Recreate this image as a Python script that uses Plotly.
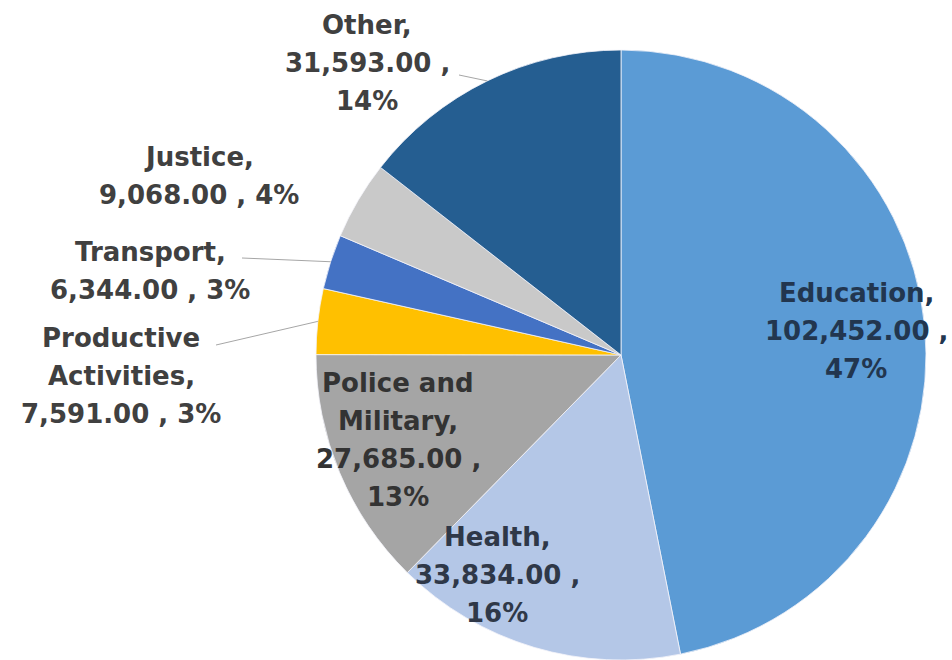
import math
import plotly.graph_objects as go

# Spending by sector
categories = ["Education", "Health", "Police and Military", "Productive Activities",
              "Transport", "Justice", "Other"]
amounts = [102452, 33834, 27685, 7591, 6344, 9068, 31593]
pct_labels = [47, 16, 13, 3, 3, 4, 14]
colors = ["#5B9BD5", "#B4C7E7", "#A5A5A5", "#FFC000", "#4472C4", "#C9C9C9", "#255E91"]

# label wrapping: split the name over two lines / put the percent on its own line
wrap_name = [False, False, True, True, False, False, False]
split_pct = [True, True, True, False, False, False, True]
# label block placement (centre x, first line centre y) in pixels, and text colour
label_pos = [(856, 293), (497, 537), (398, 383), (121, 338), (150, 252), (199, 157), (367, 25)]
label_color = ["#22364F", "#2F3848", "#333333", "#404040", "#404040", "#404040", "#404040"]
leader_from = {3: (216, 345), 4: (242, 258), 6: (459, 75)}

W, H = 952, 660
CX, CY, R = 621, 355, 305
LINE_GAP = 38


def px(x):
    return x / W


def py(y):
    return 1 - y / H


def label_lines(i):
    name = categories[i]
    if wrap_name[i]:
        head, tail = name.rsplit(" ", 1)
        lines = [head, tail + ","]
    else:
        lines = [name + ","]
    value = f"{amounts[i]:,.2f}"
    pct = f"{pct_labels[i]}%"
    if split_pct[i]:
        lines += [value + " ,", pct]
    else:
        lines += [value + " , " + pct]
    return lines


fig = go.Figure(go.Pie(
    labels=categories,
    values=amounts,
    sort=False,
    direction="clockwise",
    rotation=0,
    marker=dict(colors=colors, line=dict(color="#F4F4FA", width=0.8)),
    textinfo="none",
    hoverinfo="skip",
    domain=dict(x=[px(CX - R), px(CX + R)], y=[py(CY + R), py(CY - R)]),
))

annotations = []
for i in range(len(categories)):
    x0, y0 = label_pos[i]
    for k, line in enumerate(label_lines(i)):
        annotations.append(dict(
            x=px(x0), y=py(y0 + k * LINE_GAP), xref="paper", yref="paper",
            text=line, showarrow=False, xanchor="center", yanchor="middle",
            font=dict(family="DejaVu Sans", size=26, color=label_color[i], weight="bold"),
        ))

# leader lines from outside labels to the middle of their slice's rim
total = sum(amounts)
shapes = []
cum = 0
for i, v in enumerate(amounts):
    mid = (cum + v / 2) / total * 2 * math.pi
    cum += v
    if i in leader_from:
        sx, sy = leader_from[i]
        ex = CX + R * math.sin(mid)
        ey = CY - R * math.cos(mid)
        shapes.append(dict(type="line", xref="paper", yref="paper",
                           x0=px(sx), y0=py(sy), x1=px(ex), y1=py(ey),
                           line=dict(color="#A6A6A6", width=1)))

fig.update_layout(
    width=W, height=H,
    margin=dict(l=0, r=0, t=0, b=0),
    paper_bgcolor="white",
    plot_bgcolor="white",
    showlegend=False,
    annotations=annotations,
    shapes=shapes,
)

fig.write_html("out.html")
